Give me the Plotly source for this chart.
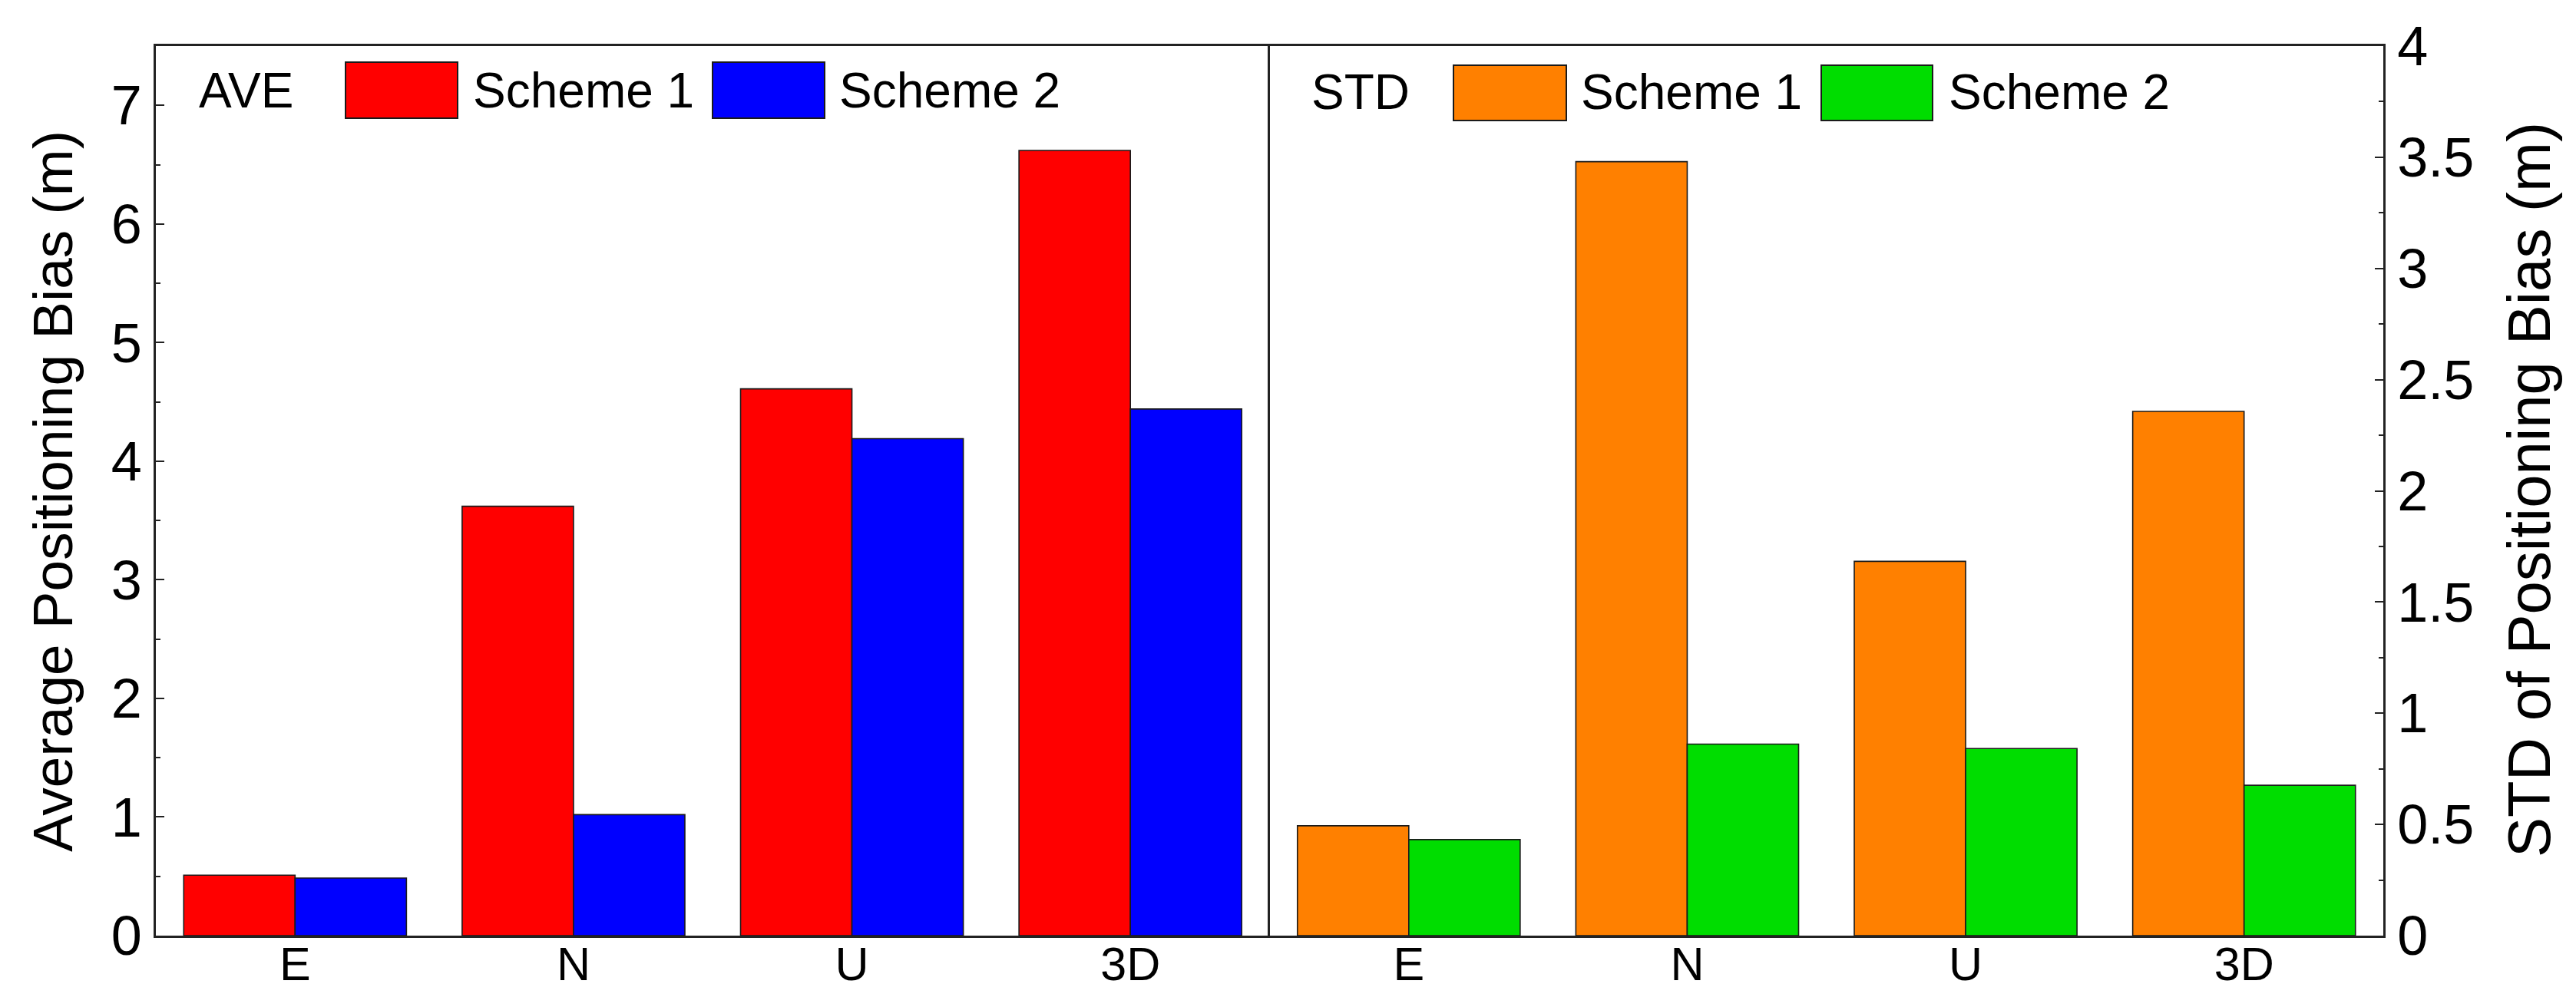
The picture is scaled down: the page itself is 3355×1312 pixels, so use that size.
import plotly.graph_objects as go

# ---------------- data ----------------
categories = ["E", "N", "U", "3D"]
ave_scheme1 = [0.51, 3.62, 4.61, 6.62]
ave_scheme2 = [0.485, 1.02, 4.19, 4.44]
std_scheme1 = [0.494, 3.48, 1.683, 2.357]
std_scheme2 = [0.432, 0.861, 0.841, 0.676]
series_names = ["Scheme 1", "Scheme 2"]
left_y_ticks = [0, 1, 2, 3, 4, 5, 6, 7]
right_y_ticks = [0, 0.5, 1, 1.5, 2, 2.5, 3, 3.5, 4]

# ---------------- style ----------------
W, H = 3355, 1312
L, R, T, B = 195, 3096, 52, 1211
FONT = "Arial, Liberation Sans, sans-serif"
c_red, c_blue, c_orange, c_green = "#FF0000", "#0000FF", "#FF8000", "#00DD00"
edge = dict(color="#1a1a1a", width=1.6)


def px(x):
    return (x - L) / (R - L)


def py(y):
    return (B - y) / (B - T)


fig = go.Figure()
fig.add_trace(go.Bar(x=categories, y=ave_scheme1, name=series_names[0], marker=dict(color=c_red, line=edge),
                     xaxis="x", yaxis="y", showlegend=False))
fig.add_trace(go.Bar(x=categories, y=ave_scheme2, name=series_names[1], marker=dict(color=c_blue, line=edge),
                     xaxis="x", yaxis="y", showlegend=False))
fig.add_trace(go.Bar(x=categories, y=std_scheme1, name=series_names[0], marker=dict(color=c_orange, line=edge),
                     xaxis="x2", yaxis="y2", showlegend=False))
fig.add_trace(go.Bar(x=categories, y=std_scheme2, name=series_names[1], marker=dict(color=c_green, line=edge),
                     xaxis="x2", yaxis="y2", showlegend=False))

axis_line = dict(showline=True, linecolor="#222222", linewidth=2.5)
xcommon = dict(**axis_line, mirror=True, ticks="", showgrid=False, zeroline=False,
               tickfont=dict(family=FONT, size=61, color="black"), ticklabelstandoff=-18)

fig.update_layout(
    width=W, height=H,
    margin=dict(l=L, r=W - R, t=T, b=H - B, pad=0),
    paper_bgcolor="white", plot_bgcolor="white",
    barmode="group", bargap=0.2, bargroupgap=0,
    font=dict(family=FONT, color="black"),
    xaxis=dict(domain=[0, 0.5], anchor="y", **xcommon),
    xaxis2=dict(domain=[0.5, 1], anchor="y2", **xcommon),
    yaxis=dict(domain=[0, 1], anchor="x", range=[0, 7.5], tickmode="array", tickvals=left_y_ticks,
               ticks="inside", ticklen=11, tickwidth=2, tickcolor="#222222",
               minor=dict(dtick=0.5, ticks="inside", ticklen=6, tickwidth=2, tickcolor="#222222", showgrid=False),
               **axis_line, mirror=False, showgrid=False, zeroline=False,
               tickfont=dict(family=FONT, size=72, color="black"), ticklabelstandoff=1),
    yaxis2=dict(domain=[0, 1], anchor="x2", side="right", range=[0, 4], tickmode="array", tickvals=right_y_ticks,
                ticks="inside", ticklen=11, tickwidth=2, tickcolor="#222222",
                minor=dict(dtick=0.25, ticks="inside", ticklen=6, tickwidth=2, tickcolor="#222222", showgrid=False),
                **axis_line, mirror=True, showgrid=False, zeroline=False,
                tickfont=dict(family=FONT, size=72, color="black"), ticklabelstandoff=1),
)

annotations = []
shapes = []

# axis titles
annotations.append(dict(text="Average Positioning Bias (m)", textangle=-90, xref="paper", yref="paper",
                        x=px(60), y=py(632), xanchor="center", yanchor="middle", showarrow=False,
                        font=dict(family=FONT, size=73, color="black")))
annotations.append(dict(text="STD of Positioning Bias (m)", textangle=-90, xref="paper", yref="paper",
                        x=px(3286), y=py(630), xanchor="center", yanchor="middle", showarrow=False,
                        font=dict(family=FONT, size=78, color="black")))

# custom legends (large swatches)
legend_font = dict(family=FONT, size=64, color="black")
legend_items = [
    # (title, title_x, title_y, [(swatch x0, x1, y0, y1, color, label, label_x)])
    ("AVE", 249, 110, [(442, 588, 73, 146, c_red, series_names[0], 606),
                       (920, 1066, 73, 146, c_blue, series_names[1], 1083)]),
    ("STD", 1698, 112, [(1885, 2032, 77, 149, c_orange, series_names[0], 2049),
                        (2364, 2509, 77, 149, c_green, series_names[1], 2528)]),
]
for title, tx, ty, items in legend_items:
    annotations.append(dict(text=title, xref="paper", yref="paper", x=px(tx), y=py(ty),
                            xanchor="left", yanchor="middle", showarrow=False, font=legend_font))
    for x0, x1, y0, y1, col, lab, lx in items:
        shapes.append(dict(type="rect", xref="paper", yref="paper", x0=px(x0), x1=px(x1), y0=py(y1), y1=py(y0),
                           fillcolor=col, line=dict(color="#1a1a1a", width=2)))
        annotations.append(dict(text=lab, xref="paper", yref="paper", x=px(lx), y=py(ty),
                                xanchor="left", yanchor="middle", showarrow=False, font=legend_font))

fig.update_layout(annotations=annotations, shapes=shapes)
fig.write_html("out.html")
